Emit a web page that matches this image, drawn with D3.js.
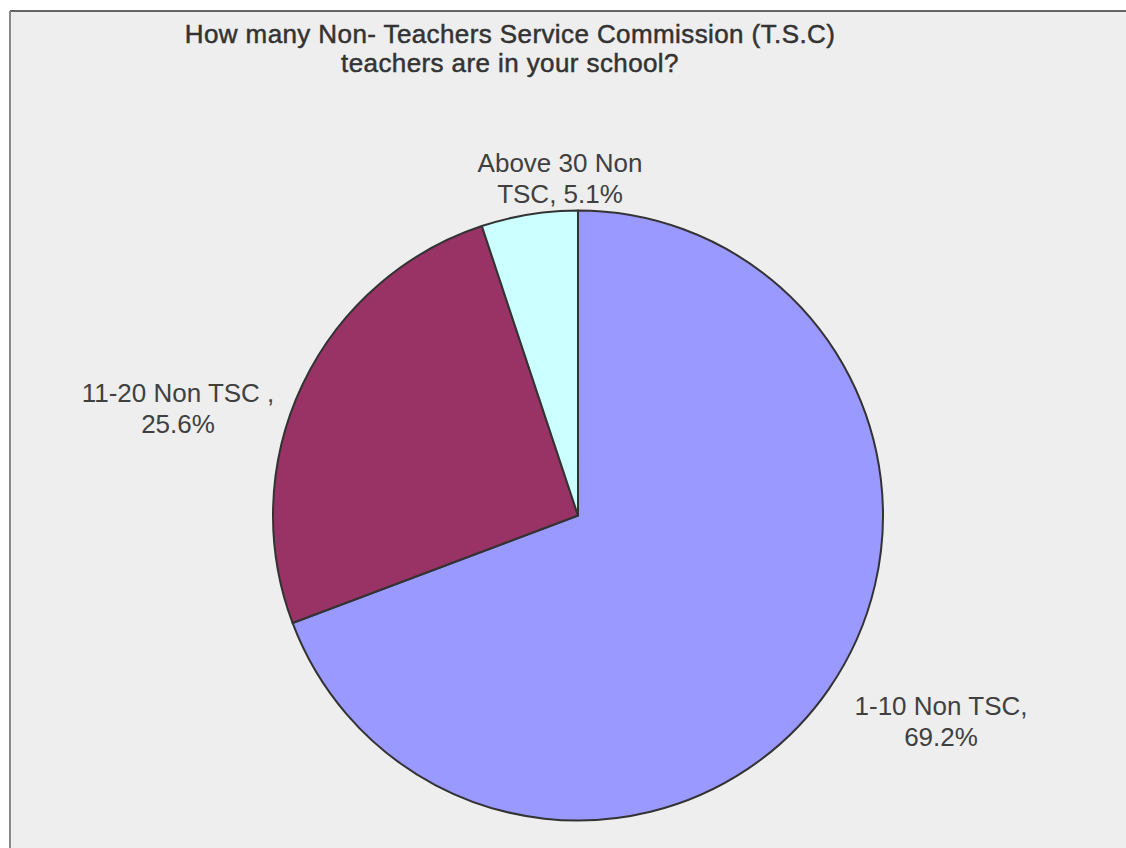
<!DOCTYPE html>
<html><head><meta charset="utf-8">
<script src="https://cdn.jsdelivr.net/npm/d3@7"></script>
<style>
html,body{margin:0;padding:0;background:#fff;}
svg{display:block;}
</style></head>
<body>
<svg id="chart" width="1126" height="848"></svg>
<script>
const categories = ["1-10 Non TSC", "11-20 Non TSC", "Above 30 Non TSC"];
const values = [69.2, 25.6, 5.1];
const labelLines = [["1-10 Non TSC,", "69.2%"], ["11-20 Non TSC ,", "25.6%"], ["Above 30 Non", "TSC, 5.1%"]];
const colors = ["#9999ff", "#993366", "#ccffff"];
const titleLines = ["How many Non- Teachers Service Commission (T.S.C)", "teachers are in your school?"];

const svg = d3.select("#chart");
const W = 1126, H = 848;
svg.append("rect").attr("x", 10).attr("y", 11).attr("width", W - 10).attr("height", H - 11).attr("fill", "#eeeeee");
svg.append("line").attr("x1", 10).attr("x2", W).attr("y1", 11).attr("y2", 11).attr("stroke", "#333").attr("stroke-width", 1.5);
svg.append("line").attr("x1", 10).attr("x2", 10).attr("y1", 11).attr("y2", H).attr("stroke", "#888").attr("stroke-width", 2);

const title = svg.append("text").attr("text-anchor", "middle")
  .attr("font-family", "Liberation Sans, Arial, sans-serif").attr("font-size", 26)
  .attr("letter-spacing", 0.4).attr("fill", "#333").attr("stroke", "#333").attr("stroke-width", 0.5);
titleLines.forEach((t, i) => title.append("tspan").attr("x", 510).attr("y", 43 + i * 29).text(t));

const cx = 578, cy = 515.5, r = 305;
const pie = d3.pie().sort(null).value(d => d)(values);
const arc = d3.arc().innerRadius(0).outerRadius(r);
const g = svg.append("g").attr("transform", `translate(${cx},${cy})`);
g.selectAll("path").data(pie).join("path")
  .attr("d", arc).attr("fill", (d, i) => colors[i])
  .attr("stroke", "#333").attr("stroke-width", 2).attr("stroke-linejoin", "round");

const labelPos = [[941, 715], [178, 402], [560, 172]];
pie.forEach((d, i) => {
  const t = svg.append("text").attr("text-anchor", "middle")
    .attr("font-family", "Liberation Sans, Arial, sans-serif").attr("font-size", 26).attr("fill", "#404040");
  labelLines[i].forEach((line, j) => t.append("tspan").attr("x", labelPos[i][0]).attr("y", labelPos[i][1] + j * 31).text(line));
});
</script>
</body></html>
